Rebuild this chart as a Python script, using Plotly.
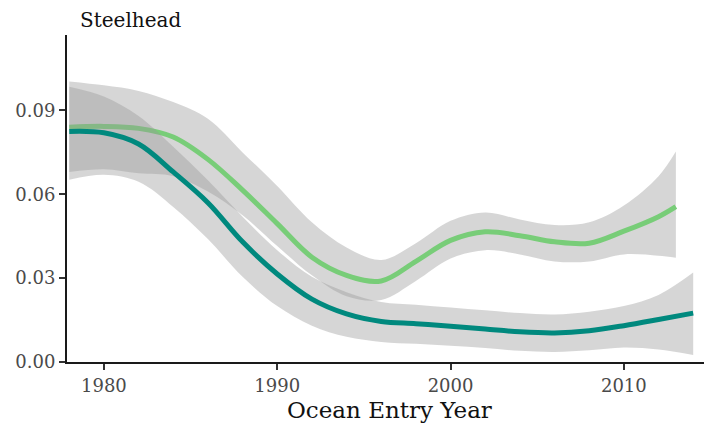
import plotly.graph_objects as go

# ---- data ----
green_years = [1978, 1980, 1982, 1984, 1986, 1988, 1990, 1992, 1994, 1996,
               1998, 2000, 2002, 2004, 2006, 2008, 2010, 2012, 2013]
green_fit = [0.0840, 0.0843, 0.0836, 0.0805, 0.0725, 0.0615, 0.0495, 0.0375, 0.0310, 0.0290,
             0.0360, 0.0435, 0.0466, 0.0452, 0.0430, 0.0425, 0.0468, 0.0520, 0.0556]
green_upper = [0.1004, 0.0990, 0.0970, 0.0930, 0.0870, 0.0750, 0.0630, 0.0500, 0.0410, 0.0365,
               0.0425, 0.0505, 0.0535, 0.0510, 0.0490, 0.0500, 0.0560, 0.0665, 0.0753]
green_lower = [0.0680, 0.0690, 0.0675, 0.0665, 0.0610, 0.0525, 0.0415, 0.0310, 0.0235, 0.0222,
               0.0290, 0.0370, 0.0400, 0.0385, 0.0360, 0.0360, 0.0385, 0.0380, 0.0373]

teal_years = [1978, 1980, 1982, 1984, 1986, 1988, 1990, 1992, 1994, 1996,
              1998, 2000, 2002, 2004, 2006, 2008, 2010, 2012, 2014]
teal_fit = [0.0825, 0.0820, 0.0780, 0.0680, 0.0570, 0.0430, 0.0315, 0.0225, 0.0172, 0.0145,
            0.0137, 0.0128, 0.0118, 0.0108, 0.0104, 0.0112, 0.0130, 0.0152, 0.0175]
teal_upper = [0.0985, 0.0950, 0.0880, 0.0770, 0.0650, 0.0520, 0.0400, 0.0305, 0.0250, 0.0215,
              0.0205, 0.0195, 0.0185, 0.0175, 0.0170, 0.0180, 0.0200, 0.0240, 0.0320]
teal_lower = [0.0652, 0.0670, 0.0645, 0.0555, 0.0440, 0.0305, 0.0200, 0.0130, 0.0090, 0.0072,
              0.0065, 0.0058, 0.0050, 0.0040, 0.0036, 0.0042, 0.0052, 0.0045, 0.0025]

y_ticks = [0.00, 0.03, 0.06, 0.09]
x_ticks = [1980, 1990, 2000, 2010]

GREEN = "#78CD78"
TEAL = "#00897E"
RIBBON = "rgba(153,153,153,0.4)"
FONT = "DejaVu Serif"

# page has an 8px body margin, so the figure is 8px smaller and offset
W, H = 704, 418

fig = go.Figure()

def add_series(years, lower, upper, fit, color):
    fig.add_trace(go.Scatter(x=years, y=lower, mode="lines", line=dict(width=0, shape="spline"),
                             hoverinfo="skip", showlegend=False))
    fig.add_trace(go.Scatter(x=years, y=upper, mode="lines", line=dict(width=0, shape="spline"),
                             fill="tonexty", fillcolor=RIBBON, hoverinfo="skip", showlegend=False))
    fig.add_trace(go.Scatter(x=years, y=fit, mode="lines", line=dict(color=color, width=5, shape="spline"),
                             showlegend=False))

add_series(green_years, green_lower, green_upper, green_fit, GREEN)
add_series(teal_years, teal_lower, teal_upper, teal_fit, TEAL)

axis_common = dict(showgrid=False, zeroline=False, showline=True, linecolor="#1a1a1a", linewidth=2,
                   ticks="outside", ticklen=6, tickwidth=1.5, tickcolor="#333333", automargin=False,
                   tickfont=dict(family=FONT, size=18, color="#4A4A4A"))

fig.update_layout(
    width=W, height=H,
    margin=dict(l=59, r=2, t=27, b=64, autoexpand=False),
    plot_bgcolor="white", paper_bgcolor="white",
    xaxis=dict(range=[1977.87, 2014.97], tickvals=x_ticks, **axis_common),
    yaxis=dict(range=[0, 0.117], tickvals=y_ticks, tickformat=".2f", **axis_common),
    title=dict(text="Steelhead", xref="container", x=72 / W, xanchor="left",
               yref="container", y=1 - 12 / H, yanchor="middle", automargin=False,
               font=dict(family=FONT, size=20, color="#111111")),
)

fig.add_annotation(text="Ocean Entry Year", xref="paper", yref="paper",
                   x=0.501, y=-48 / 327, xanchor="center", yanchor="middle", showarrow=False,
                   font=dict(family=FONT, size=23, color="#111111"))

fig.write_html("out.html")
